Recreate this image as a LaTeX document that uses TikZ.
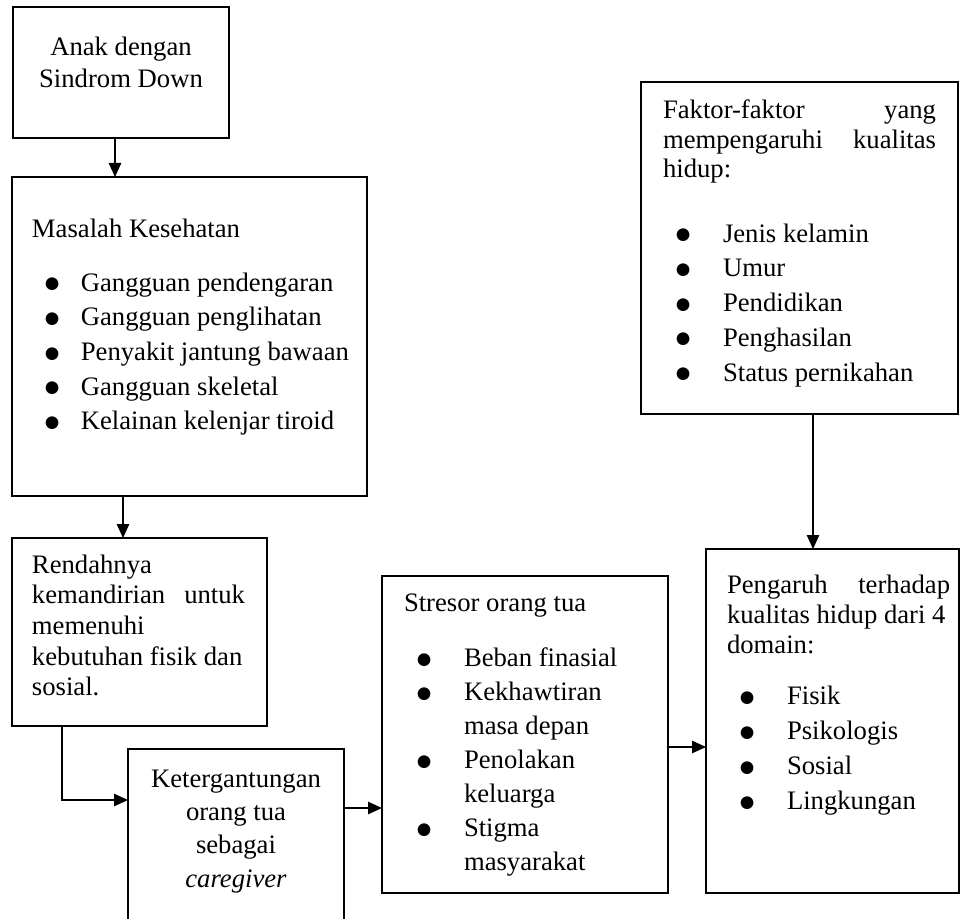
\documentclass[tikz,border=0pt]{standalone}
\usepackage{fontspec}
\setmainfont{Liberation Serif}
\newfontfamily\simbol{DejaVu Sans}
\usetikzlibrary{arrows.meta}
\setlength{\parskip}{0pt}
\tikzset{
    flow-box/.style = {draw, line width=1.1pt, rectangle, inner sep=0pt, outer sep=0pt, anchor=north west},
    flow-arrow/.style = {line width=0.6pt, -{Triangle[length=6.3pt,width=5.6pt]}},
}
% bullet item: #1 = indent of the item text
\newcommand{\titik}{\raisebox{1.1pt}{\simbol\fontsize{7.5pt}{0pt}\selectfont ●}}
\newcommand{\butir}[2][27pt]{\par\hangindent=#1\hangafter=1\noindent\hspace*{5.8pt}\makebox[\dimexpr#1-5.8pt\relax][l]{\titik}#2}

\begin{document}
\begin{tikzpicture}[x=0.45pt,y=-0.45pt]
\useasboundingbox (0,0) rectangle (961,919);

% left column
\node[flow-box] (anak) at (13,7) {\begin{minipage}[c][59pt][t]{97.2pt}\centering
    \vspace*{13.4pt}\fontsize{12}{14.4}\selectfont
    Anak dengan\\ Sindrom Down
\end{minipage}};
\node[flow-box] (masalah) at (12,177) {\begin{minipage}[c][143.55pt][t]{159.75pt}\leftskip=9pt
    \vspace*{18.8pt}\fontsize{12}{15.6}\selectfont
    Masalah Kesehatan\par\vspace{8.7pt}
    \butir[22pt]{Gangguan pendengaran}
    \butir[22pt]{Gangguan penglihatan}
    \butir[22pt]{Penyakit jantung bawaan}
    \butir[22pt]{Gangguan skeletal}
    \butir[22pt]{Kelainan kelenjar tiroid}
\end{minipage}};
\node[flow-box] (rendah) at (12,538) {\begin{minipage}[c][84.6pt][t]{114.75pt}\leftskip=9pt\rightskip=9.9pt
    \vspace*{7.55pt}\fontsize{12}{13.8}\selectfont
    \noindent Rendahnya\\ kemandirian \hfill untuk\\ memenuhi\\ kebutuhan fisik dan\\ sosial.
\end{minipage}};
\node[flow-box] (gantung) at (128,749) {\begin{minipage}[c][85.5pt][t]{97.2pt}\centering
    \vspace*{9.3pt}\fontsize{12}{15}\selectfont
    Ketergantungan\\ orang tua\\ sebagai\\ \textit{caregiver}
\end{minipage}};

% middle and right
\node[flow-box] (stresor) at (382,576) {\begin{minipage}[c][142.65pt][t]{128.7pt}\leftskip=9.9pt
    \vspace*{8pt}\fontsize{12}{15.3}\selectfont
    Stresor orang tua\par\vspace{9.5pt}
    \butir{Beban finasial}
    \butir{Kekhawtiran\\ masa depan}
    \butir{Penolakan\\ keluarga}
    \butir{Stigma\\ masyarakat}
\end{minipage}};
\node[flow-box] (faktor) at (641,82) {\begin{minipage}[c][149.4pt][t]{142.65pt}\leftskip=9.9pt\rightskip=9.9pt
    \vspace*{8pt}\fontsize{12}{13.3}\selectfont
    \noindent Faktor-faktor \hfill yang\\ mempengaruhi \hfill kualitas\\ hidup:\par
    \vspace{13.5pt}\fontsize{12}{15.6}\selectfont
    \butir{Jenis kelamin}
    \butir{Umur}
    \butir{Pendidikan}
    \butir{Penghasilan}
    \butir{Status pernikahan}
\end{minipage}};
\node[flow-box] (pengaruh) at (706,549) {\begin{minipage}[c][154.8pt][t]{113.85pt}\leftskip=9.45pt\rightskip=4pt
    \vspace*{11.6pt}\fontsize{12}{13.5}\selectfont
    \noindent Pengaruh \hfill terhadap\\ kualitas hidup dari 4\\ domain:\par
    \vspace{7.4pt}\fontsize{12}{15.75}\selectfont
    \butir{Fisik}
    \butir{Psikologis}
    \butir{Sosial}
    \butir{Lingkungan}
\end{minipage}};

% connectors
\coordinate (a1) at ([xshift=45.9pt]anak.south west);
\draw[flow-arrow] (a1) -- (a1 |- masalah.north);
\coordinate (a2) at ([xshift=49.95pt]masalah.south west);
\draw[flow-arrow] (a2) -- (a2 |- rendah.north);
\coordinate (a3) at ([xshift=22.5pt]rendah.south west);
\coordinate (b3) at ([yshift=-22.95pt]gantung.north west);
\draw[flow-arrow] (a3) |- (b3);
\coordinate (a4) at ([yshift=-26.55pt]gantung.north east);
\draw[flow-arrow] (a4) -- (a4 -| stresor.west);
\coordinate (a5) at ([yshift=-76.95pt]stresor.north east);
\draw[flow-arrow] (a5) -- (a5 -| pengaruh.west);
\coordinate (a6) at ([xshift=77.4pt]faktor.south west);
\draw[flow-arrow] (a6) -- (a6 |- pengaruh.north);
\end{tikzpicture}
\end{document}
